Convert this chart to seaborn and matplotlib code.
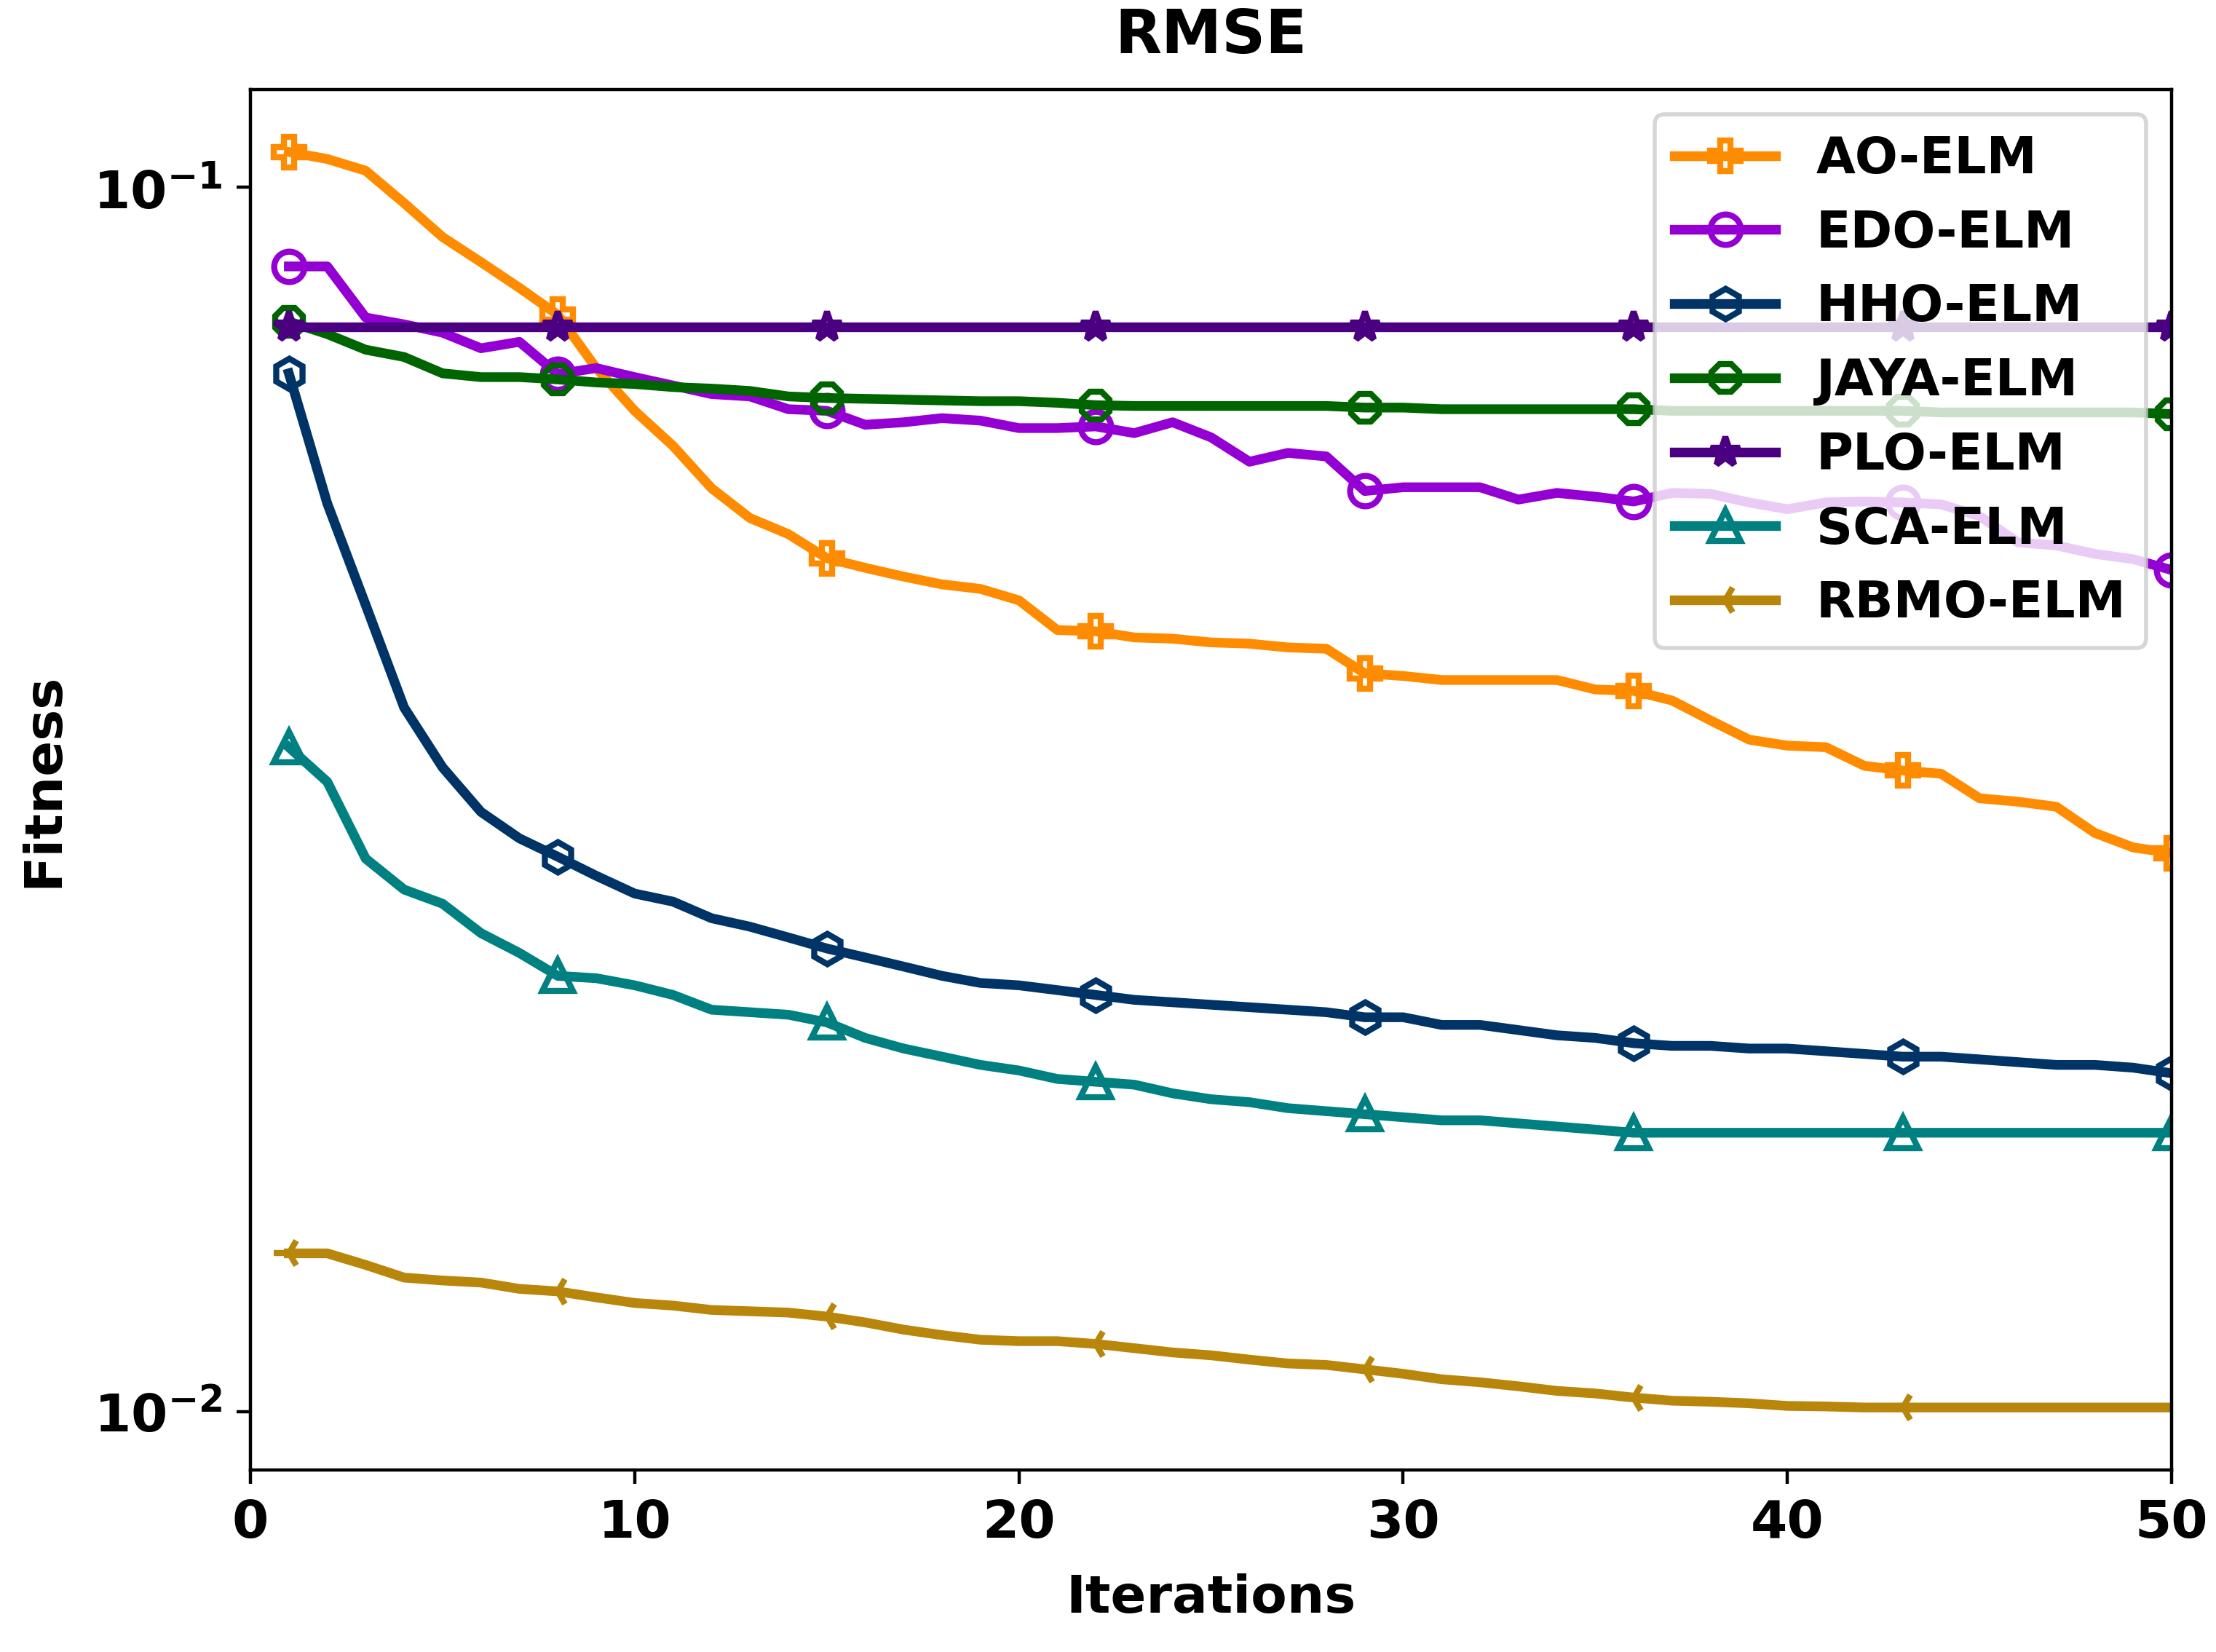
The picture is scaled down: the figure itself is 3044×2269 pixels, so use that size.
import matplotlib
matplotlib.use("Agg")
import matplotlib.pyplot as plt
import seaborn as sns
from matplotlib.ticker import NullLocator

# --- data ---
iterations = list(range(1, 51))

ao_elm = [0.1069, 0.1055, 0.1032, 0.0971, 0.0911, 0.0869, 0.0828, 0.0787, 0.0712, 0.0657,
          0.0615, 0.0568, 0.0537, 0.0521, 0.0498, 0.0489, 0.0481, 0.0474, 0.0470, 0.0460,
          0.0435, 0.0434, 0.0429, 0.0428, 0.0425, 0.0424, 0.0421, 0.0420, 0.0401, 0.0399,
          0.0396, 0.0396, 0.0396, 0.0396, 0.0389, 0.0388, 0.0381, 0.0367, 0.0354, 0.0350,
          0.0349, 0.0337, 0.0334, 0.0332, 0.0317, 0.0315, 0.0312, 0.0297, 0.0289, 0.0286]

edo_elm = [0.0862, 0.0862, 0.0783, 0.0773, 0.0761, 0.0739, 0.0748, 0.0704, 0.0712, 0.0700,
           0.0689, 0.0678, 0.0675, 0.0659, 0.0657, 0.0640, 0.0643, 0.0648, 0.0645, 0.0636,
           0.0636, 0.0638, 0.0630, 0.0643, 0.0625, 0.0597, 0.0607, 0.0603, 0.0565, 0.0569,
           0.0569, 0.0569, 0.0556, 0.0563, 0.0559, 0.0554, 0.0563, 0.0562, 0.0553, 0.0546,
           0.0553, 0.0554, 0.0553, 0.0551, 0.0539, 0.0513, 0.0510, 0.0502, 0.0497, 0.0487]

hho_elm = [0.0705, 0.0552, 0.0456, 0.0376, 0.0336, 0.0309, 0.0294, 0.0284, 0.0274, 0.0265,
           0.0261, 0.0253, 0.0249, 0.0244, 0.0239, 0.0235, 0.0231, 0.0227, 0.0224, 0.0223,
           0.0221, 0.0219, 0.0217, 0.0216, 0.0215, 0.0214, 0.0213, 0.0212, 0.0210, 0.0210,
           0.0207, 0.0207, 0.0205, 0.0203, 0.0202, 0.0200, 0.0199, 0.0199, 0.0198, 0.0198,
           0.0197, 0.0196, 0.0195, 0.0195, 0.0194, 0.0193, 0.0192, 0.0192, 0.0191, 0.0189]

jaya_elm = [0.0777, 0.0759, 0.0737, 0.0727, 0.0705, 0.0700, 0.0700, 0.0697, 0.0693, 0.0691,
            0.0687, 0.0685, 0.0682, 0.0675, 0.0673, 0.0672, 0.0671, 0.0670, 0.0669, 0.0669,
            0.0667, 0.0664, 0.0663, 0.0663, 0.0663, 0.0663, 0.0663, 0.0663, 0.0661, 0.0661,
            0.0659, 0.0659, 0.0659, 0.0659, 0.0659, 0.0659, 0.0657, 0.0657, 0.0657, 0.0657,
            0.0657, 0.0657, 0.0657, 0.0655, 0.0655, 0.0655, 0.0655, 0.0655, 0.0655, 0.0653]

plo_elm = [0.0769] * 50

sca_elm = [0.0349, 0.0327, 0.0283, 0.0267, 0.0260, 0.0246, 0.0237, 0.0227, 0.0226, 0.0223,
           0.0219, 0.0213, 0.0212, 0.0211, 0.0208, 0.0202, 0.0198, 0.0195, 0.0192, 0.0190,
           0.0187, 0.0186, 0.0185, 0.0182, 0.0180, 0.0179, 0.0177, 0.0176, 0.0175, 0.0174,
           0.0173, 0.0173, 0.0172, 0.0171, 0.0170, 0.0169, 0.0169, 0.0169, 0.0169, 0.0169,
           0.0169, 0.0169, 0.0169, 0.0169, 0.0169, 0.0169, 0.0169, 0.0169, 0.0169, 0.0169]

rbmo_elm = [0.01347, 0.01347, 0.01318, 0.01287, 0.01280, 0.01275, 0.01260, 0.01254, 0.01240, 0.01227,
            0.01221, 0.01211, 0.01208, 0.01205, 0.01196, 0.01183, 0.01167, 0.01155, 0.01145, 0.01142,
            0.01142, 0.01136, 0.01127, 0.01118, 0.01112, 0.01103, 0.01095, 0.01092, 0.01083, 0.01074,
            0.01063, 0.01057, 0.01049, 0.01040, 0.01035, 0.01027, 0.01021, 0.01019, 0.01016, 0.01011,
            0.01010, 0.01008, 0.01008, 0.01008, 0.01008, 0.01008, 0.01008, 0.01008, 0.01008, 0.01008]

names = ["AO-ELM", "EDO-ELM", "HHO-ELM", "JAYA-ELM", "PLO-ELM", "SCA-ELM", "RBMO-ELM"]
curves = [ao_elm, edo_elm, hho_elm, jaya_elm, plo_elm, sca_elm, rbmo_elm]
colors = ["darkorange", "darkviolet", "#003366", "darkgreen", "indigo", "teal", "darkgoldenrod"]
markers = ["P", "o", "h", "8", "*", "^", "3"]

plt.rcParams["font.weight"] = "bold"
plt.rcParams["axes.labelweight"] = "bold"
plt.rcParams["axes.titleweight"] = "bold"

fig, ax = plt.subplots(figsize=(3044 / 400, 2269 / 400), dpi=400)
fig.subplots_adjust(left=0.113, right=0.980, top=0.946, bottom=0.110)

for name, vals, col, mk in zip(names, curves, colors, markers):
    sns.lineplot(x=iterations, y=vals, ax=ax, label=name, color=col, linewidth=2.4,
                 marker=mk, markevery=7, markersize=7.5, markerfacecolor="none",
                 markeredgecolor=col, markeredgewidth=1.5, errorbar=None)

ax.set_yscale("log")
ax.yaxis.set_minor_locator(NullLocator())
ax.set_xlim(0, 50)

ax.set_title("RMSE", fontsize=15, pad=9)
ax.set_xlabel("Iterations", fontsize=13, labelpad=6)
ax.set_ylabel("Fitness", fontsize=13, labelpad=6)
ax.tick_params(labelsize=13)

ax.legend(loc="upper right", fontsize=12.5, labelspacing=0.5)

fig.savefig("out.png", dpi=400)
